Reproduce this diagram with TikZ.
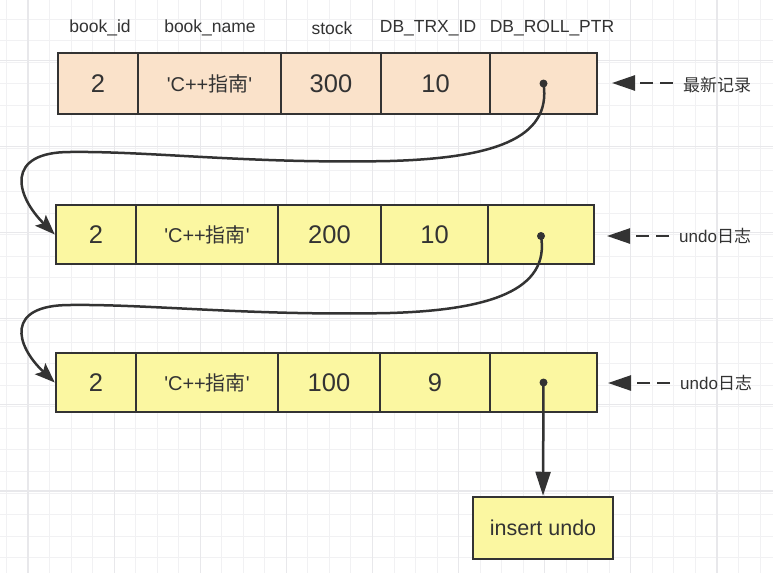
\documentclass[tikz,border=0pt]{standalone}
\usepackage{fontspec}
\setmainfont{Liberation Sans}
\newfontfamily\cjk{Noto Sans CJK SC}
\usetikzlibrary{arrows.meta}
\definecolor{ink}{HTML}{333333}
\definecolor{peach}{HTML}{FAE2CA}
\definecolor{lemon}{HTML}{FBF7A1}
\definecolor{gridminor}{HTML}{F1F1F3}
\definecolor{gridmajor}{HTML}{E8E8EB}
\tikzset{
  cell/.style={draw=ink, line width=2.5pt, inner sep=0pt, text=ink,
    font=\fontsize{25.5}{30}\selectfont},
  namecell/.style={cell, font=\fontsize{20}{24}\selectfont},
  hdr/.style={text=ink, inner sep=0pt, font=\fontsize{17.5}{21}\selectfont},
  lbl/.style={text=ink, inner sep=0pt, anchor=west, font=\fontsize{17}{21}\selectfont},
  link/.style={draw=ink, line width=2.5pt, -{Stealth[length=20pt,width=15pt,inset=4pt]}},
  tag/.style={draw=ink, line width=2.5pt, dash pattern=on 13pt off 7pt,
    -{Triangle[length=23pt,width=15pt]}},
  ptr/.style={fill=ink, circle, inner sep=0pt, minimum size=8pt}
}
\newcommand{\cpp}{\textquotesingle C++{\cjk 指南}\textquotesingle}
\begin{document}
\begin{tikzpicture}[x=1pt,y=-1pt]
\useasboundingbox (0,0) rectangle (773,573);
\fill[white] (0,0) rectangle (773,573);
% grid
\foreach \i in {0,...,36} {\draw[gridminor, line width=1pt] (6.5+\i*21.53,0) -- (6.5+\i*21.53,573);}
\foreach \j in {0,...,26} {\draw[gridminor, line width=1pt] (0,19.34+\j*21.53) -- (773,19.34+\j*21.53);}
\foreach \i in {0,...,8} {\draw[gridmajor, line width=1.2pt] (28+\i*86.12,0) -- (28+\i*86.12,573);}
\foreach \j in {0,...,6} {\draw[gridmajor, line width=1.2pt] (0,60.4+\j*86.12) -- (773,60.4+\j*86.12);}

% headers
\node[hdr] (h1) at (100,28) {book\_id};
\node[hdr] (h2) at (210,28) {book\_name};
\node[hdr] (h3) at (332,28) {stock};
\node[hdr] (h4) at (428,28) {DB\_TRX\_ID};
\node[hdr] (h5) at (552,28) {DB\_ROLL\_PTR};

% row 1
\begin{scope}[every node/.append style={fill=peach, minimum height=61pt}]
\node[cell, minimum width=80pt]  (a1) at (98,83.5) {2};
\node[namecell, minimum width=143pt] (a2) at (209.5,83.5) {\cpp};
\node[cell, minimum width=100pt] (a3) at (331,83.5) {300};
\node[cell, minimum width=109pt] (a4) at (435.5,83.5) {10};
\node[cell, minimum width=107pt] (a5) at (543.5,83.5) {};
\end{scope}
% row 2
\begin{scope}[every node/.append style={fill=lemon, minimum height=59pt}]
\node[cell, minimum width=80pt]  (b1) at (96,234.5) {2};
\node[namecell, minimum width=142pt] (b2) at (207,234.5) {\cpp};
\node[cell, minimum width=103pt] (b3) at (329.5,234.5) {200};
\node[cell, minimum width=107pt] (b4) at (434.5,234.5) {10};
\node[cell, minimum width=106pt] (b5) at (541,234.5) {};
\end{scope}
% row 3
\begin{scope}[every node/.append style={fill=lemon, minimum height=59pt}]
\node[cell, minimum width=80pt]  (c1) at (96,382.5) {2};
\node[namecell, minimum width=142pt] (c2) at (207,382.5) {\cpp};
\node[cell, minimum width=102pt] (c3) at (329,382.5) {100};
\node[cell, minimum width=110pt] (c4) at (435,382.5) {9};
\node[cell, minimum width=107pt] (c5) at (543.5,382.5) {};
\end{scope}

% insert undo
\node[cell, fill=lemon, minimum width=140pt, minimum height=62pt,
  font=\fontsize{21.5}{25}\selectfont] (iu) at (543,528) {insert undo};

% pointer dots
\node[ptr] (d1) at (a5.center) {};
\node[ptr] (d2) at ([yshift=-1.5pt]b5.center) {};
\node[ptr] (d3) at (c5.center) {};

% curved links
\draw[link] (d1.center) .. controls (552,140) and (490,158) .. (390,161)
  .. controls (250,164) and (150,151) .. (70,152)
  .. controls (5,152) and (15,195) .. (b1.west);
\draw[link] (d2.center) .. controls (550,290) and (490,310) .. (390,313)
  .. controls (250,316) and (150,304) .. (70,305)
  .. controls (5,305) and (15,345) .. (c1.west);
\draw[draw=ink, line width=2.5pt, -{Triangle[length=24pt,width=15pt]}] (d3.center) -- (iu.north);

% side labels
\node[lbl] (l1) at (683,85) {{\cjk 最新记录}};
\node[lbl] (l2) at (679,236) {undo{\cjk 日志}};
\node[lbl] (l3) at (680,383) {undo{\cjk 日志}};
\coordinate (t1) at (612,83);
\coordinate (t2) at (607,236);
\coordinate (t3) at (608,383);
\draw[tag] ([xshift=-10pt]l1.west |- t1) -- (t1);
\draw[tag] ([xshift=-10pt]l2.west |- t2) -- (t2);
\draw[tag] ([xshift=-10pt]l3.west |- t3) -- (t3);
\end{tikzpicture}
\end{document}
